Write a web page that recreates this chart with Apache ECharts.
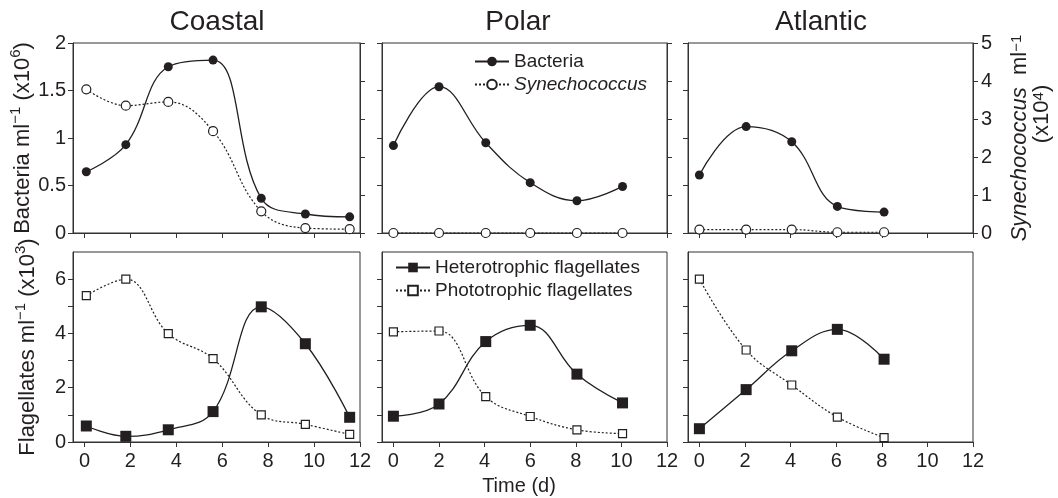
<!DOCTYPE html>
<html><head><meta charset="utf-8">
<script src="https://cdn.jsdelivr.net/npm/echarts@6/dist/echarts.min.js"></script>
<style>html,body{margin:0;padding:0;background:#fff}#c{width:1058px;height:498px}</style>
</head><body><div id="c"></div>
<script>
// ---- data ----
const panelTitles = ['Coastal', 'Polar', 'Atlantic'];
const xTickValues = [0, 2, 4, 6, 8, 10, 12];
const bactTickValues = [0, 0.5, 1, 1.5, 2];
const synTickValues = [0, 1, 2, 3, 4, 5];
const flagTickValues = [0, 1, 2, 3, 4, 5, 6];
const flagLabelValues = [0, 2, 4, 6];

const coastalTime = [0.08, 1.8, 3.65, 5.6, 7.7, 9.62, 11.55];
const polarTime = [0, 2, 4.05, 6, 8.05, 10.05];
const atlanticTime = [0, 2.05, 4.05, 6.05, 8.1];

const coastalBacteria = [0.645, 0.93, 1.75, 1.82, 0.365, 0.2, 0.17];
const polarBacteria = [0.92, 1.54, 0.95, 0.53, 0.34, 0.49];
const atlanticBacteria = [0.61, 1.12, 0.96, 0.28, 0.22];

const coastalSyn = [3.78, 3.35, 3.45, 2.68, 0.57, 0.13, 0.1];
const polarSyn = [0, 0, 0, 0, 0, 0];
const atlanticSyn = [0.09, 0.09, 0.09, 0.02, 0.02];

const coastalHetero = [0.59, 0.21, 0.45, 1.12, 4.98, 3.62, 0.91];
const polarHetero = [0.95, 1.40, 3.70, 4.30, 2.50, 1.44];
const atlanticHetero = [0.49, 1.93, 3.36, 4.15, 3.05];

const coastalPhoto = [5.39, 6.0, 3.99, 3.07, 1.0, 0.65, 0.28];
const polarPhoto = [4.06, 4.09, 1.67, 0.94, 0.45, 0.31];
const atlanticPhoto = [6.0, 3.39, 2.10, 0.92, 0.16];

// ---- layout / style ----
const FONT = '"Liberation Sans", Arial, Helvetica, sans-serif';
const INK = '#231f20';
const AX = '#333';
const cols = [{left: 73, width: 287}, {left: 382, width: 285}, {left: 688, width: 285}];
const rows = [{top: 43, height: 190}, {top: 252, height: 190}];
const titleX = [217, 518, 821];

const times = [coastalTime, polarTime, atlanticTime];
const bact = [coastalBacteria, polarBacteria, atlanticBacteria];
const syn = [coastalSyn, polarSyn, atlanticSyn];
const het = [coastalHetero, polarHetero, atlanticHetero];
const pho = [coastalPhoto, polarPhoto, atlanticPhoto];

const pair = (t, v) => t.map((x, i) => [x, v[i]]);

const grids = [];
rows.forEach(r => cols.forEach(c => grids.push({
  left: c.left, width: c.width, top: r.top, height: r.height,
  show: true, borderColor: AX, borderWidth: 1, backgroundColor: 'transparent', containLabel: false
})));

const axisLine = {show: true, onZero: false, lineStyle: {color: AX, width: 1}};
const tickStyle = {color: AX, width: 1};

const nameRich = {
  b: {fontSize: 22, color: INK, fontFamily: FONT, lineHeight: 26, verticalAlign: 'bottom'},
  i: {fontSize: 22, color: INK, fontFamily: FONT, fontStyle: 'italic', lineHeight: 26, verticalAlign: 'bottom'},
  s: {fontSize: 15, color: INK, fontFamily: FONT, lineHeight: 15, verticalAlign: 'top'}
};

const xAxes = grids.map((g, i) => {
  const bottomRow = i >= 3;
  const ax = {
    gridIndex: i, type: 'value', min: -0.5, max: 12,
    axisLine: axisLine,
    axisTick: {show: true, length: 5, lineStyle: tickStyle, customValues: xTickValues},
    axisLabel: {show: bottomRow, customValues: xTickValues, fontSize: 20, color: INK, fontFamily: FONT, margin: 9},
    splitLine: {show: false}
  };
  if (i === 4) {
    ax.name = 'Time (d)';
    ax.nameLocation = 'middle';
    ax.nameGap = 34;
    ax.nameTextStyle = {fontSize: 20, color: INK, fontFamily: FONT, padding: [0, 11, 0, 0]};
  }
  return ax;
});

const yAxes = [];
// top-left bacteria axes 0..2
for (let i = 0; i < 3; i++) {
  const ax = {
    gridIndex: i, type: 'value', min: 0, max: 2, interval: 0.5, position: 'left',
    axisLine: axisLine,
    axisTick: {show: true, length: 5, lineStyle: tickStyle, customValues: bactTickValues},
    axisLabel: {show: i === 0, customValues: bactTickValues, fontSize: 20, color: INK, fontFamily: FONT, margin: 7},
    splitLine: {show: false}
  };
  if (i === 0) {
    ax.name = '{b|Bacteria ml}{s|−1}{b| (x10}{s|6}{b|)}';
    ax.nameLocation = 'middle';
    ax.nameGap = 34;
    ax.nameTextStyle = {fontSize: 22, color: INK, fontFamily: FONT, rich: nameRich};
  }
  yAxes.push(ax);
}
// top-right synechococcus axes 3..5
for (let i = 0; i < 3; i++) {
  const ax = {
    gridIndex: i, type: 'value', min: 0, max: 5, interval: 1, position: 'right',
    axisLine: axisLine,
    axisTick: {show: true, length: 5, lineStyle: tickStyle, customValues: synTickValues},
    axisLabel: {show: i === 2, customValues: synTickValues, fontSize: 20, color: INK, fontFamily: FONT, margin: 8},
    splitLine: {show: false}
  };
  if (i === 2) {
    ax.name = '{i|Synechococcus}{b|  ml}{s|−1}\n{p|(x10}{s|4}{b|)}';
    ax.nameLocation = 'middle';
    ax.nameGap = 36;
    ax.nameTextStyle = {
      fontSize: 22, color: INK, fontFamily: FONT, align: 'center',
      rich: Object.assign({}, nameRich, {
        b: {fontSize: 22, color: INK, fontFamily: FONT, lineHeight: 22, verticalAlign: 'bottom'},
        i: {fontSize: 22, color: INK, fontFamily: FONT, fontStyle: 'italic', lineHeight: 22, verticalAlign: 'bottom'},
        p: {fontSize: 22, color: INK, fontFamily: FONT, lineHeight: 22, verticalAlign: 'bottom', padding: [0, 0, 0, 48]}
      })
    };
  }
  yAxes.push(ax);
}
// bottom flagellates axes 6..8
for (let i = 0; i < 3; i++) {
  const ax = {
    gridIndex: 3 + i, type: 'value', min: 0, max: 7, interval: 1, position: 'left',
    axisLine: axisLine,
    axisTick: {show: true, length: 5, lineStyle: tickStyle, customValues: flagTickValues},
    axisLabel: {show: i === 0, customValues: flagLabelValues, fontSize: 20, color: INK, fontFamily: FONT, margin: 7},
    splitLine: {show: false}
  };
  if (i === 0) {
    ax.name = '{b|Flagellates ml}{s|−1}{b| (x10}{s|3}{b|)}';
    ax.nameLocation = 'middle';
    ax.nameGap = 34;
    ax.nameTextStyle = {fontSize: 22, color: INK, fontFamily: FONT, rich: nameRich};
  }
  yAxes.push(ax);
}

const SMOOTH = 0.4;
const series = [];
for (let i = 0; i < 3; i++) {
  series.push({
    name: 'Bacteria', type: 'line', xAxisIndex: i, yAxisIndex: i, data: pair(times[i], bact[i]),
    smooth: SMOOTH, symbol: 'circle', symbolSize: 9, z: 3,
    lineStyle: {color: INK, width: 1.3}, itemStyle: {color: INK, borderColor: INK, borderWidth: 0}
  });
  series.push({
    name: 'Synechococcus', type: 'line', xAxisIndex: i, yAxisIndex: 3 + i, data: pair(times[i], syn[i]),
    smooth: SMOOTH, symbol: 'circle', symbolSize: 9, z: 2,
    lineStyle: {color: INK, width: 1.2, type: [2, 2]}, itemStyle: {color: '#fff', borderColor: INK, borderWidth: 1.2}
  });
  series.push({
    name: 'Heterotrophic flagellates', type: 'line', xAxisIndex: 3 + i, yAxisIndex: 6 + i, data: pair(times[i], het[i]),
    smooth: SMOOTH, symbol: 'rect', symbolSize: 11, z: 3,
    lineStyle: {color: INK, width: 1.3}, itemStyle: {color: INK, borderColor: INK, borderWidth: 0}
  });
  series.push({
    name: 'Phototrophic flagellates', type: 'line', xAxisIndex: 3 + i, yAxisIndex: 6 + i, data: pair(times[i], pho[i]),
    smooth: SMOOTH, symbol: 'rect', symbolSize: 8, z: 2,
    lineStyle: {color: INK, width: 1.2, type: [2, 2]}, itemStyle: {color: '#fff', borderColor: INK, borderWidth: 1.2}
  });
}

const legendBase = {
  orient: 'vertical', itemWidth: 34, itemHeight: 12, itemGap: 4, selectedMode: false,
  textStyle: {fontSize: 19, color: INK, fontFamily: FONT, rich: {i: {fontStyle: 'italic', fontSize: 19, color: INK, fontFamily: FONT}}},
  formatter: n => n === 'Synechococcus' ? '{i|' + n + '}' : n
};

const option = {
  animation: false,
  backgroundColor: '#fff',
  textStyle: {fontFamily: FONT},
  grid: grids,
  xAxis: xAxes,
  yAxis: yAxes,
  legend: [
    Object.assign({}, legendBase, {data: ['Bacteria', 'Synechococcus'], left: 469, top: 47}),
    Object.assign({}, legendBase, {data: ['Heterotrophic flagellates', 'Phototrophic flagellates'], left: 390, top: 253})
  ],
  graphic: panelTitles.map((t, i) => ({
    type: 'text', x: titleX[i], y: 22,
    style: {text: t, fontSize: 28, fill: INK, fontFamily: FONT, textAlign: 'center', textVerticalAlign: 'middle'}
  })),
  series: series
};

const chart = echarts.init(document.getElementById('c'), null, {renderer: 'canvas'});
chart.setOption(option);
</script>
</body></html>
